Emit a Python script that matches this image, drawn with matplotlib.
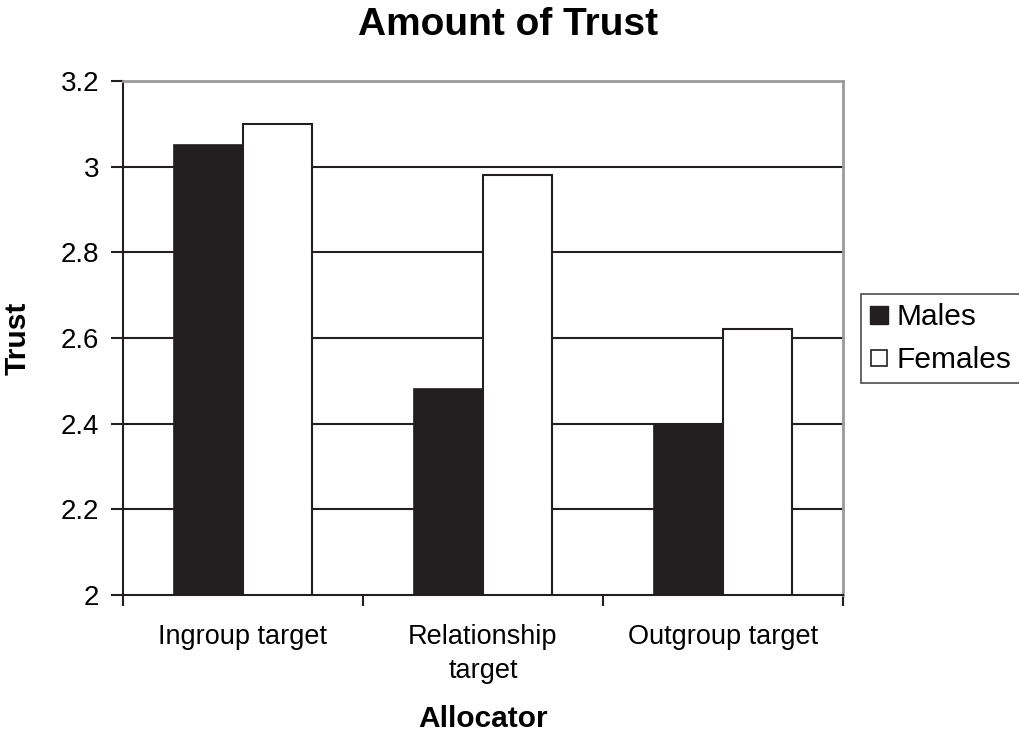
import matplotlib
matplotlib.use("Agg")
import matplotlib.pyplot as plt
import numpy as np
from matplotlib.lines import Line2D

categories = ["Ingroup target", "Relationship\ntarget", "Outgroup target"]
series_names = ["Males", "Females"]
males = [3.05, 2.48, 2.40]
females = [3.10, 2.98, 2.62]
yticks = [2, 2.2, 2.4, 2.6, 2.8, 3, 3.2]
ytick_labels = ["2", "2.2", "2.4", "2.6", "2.8", "3", "3.2"]

plt.rcParams['font.family'] = ['Liberation Sans', 'DejaVu Sans']

fig = plt.figure(figsize=(10.19, 7.34), dpi=100)
ax = fig.add_axes([123/1019, 1-595/734, 720/1019, 514/734])

x = np.arange(len(categories))
w = 0.2875
ax.bar(x - w/2, [m - 2 for m in males], w, bottom=2, color="#231f20",
       edgecolor="#231f20", linewidth=1.2, zorder=3, label=series_names[0])
ax.bar(x + w/2, [f - 2 for f in females], w, bottom=2, color="white",
       edgecolor="#231f20", linewidth=1.5, zorder=3, label=series_names[1])

ax.set_xlim(-0.5, len(categories) - 0.5)
ax.set_ylim(2, 3.2)
ax.set_yticks(yticks)
ax.set_yticklabels(ytick_labels, fontsize=20)
for yv in yticks[1:-1]:
    ax.axhline(yv, color="#231f20", linewidth=1.5, zorder=1)

ax.set_xticks(x)
ax.set_xticklabels(categories, fontsize=19.5, linespacing=1.4)
ax.set_xticks(np.arange(len(categories) + 1) - 0.5, minor=True)
ax.tick_params(axis="x", which="major", length=0, pad=21)
ax.tick_params(axis="x", which="minor", length=8, width=1.5, color="#231f20", direction="out")
ax.tick_params(axis="y", length=9, width=1.5, color="#231f20", direction="out", pad=8)

for s in ["left", "bottom"]:
    ax.spines[s].set_color("#231f20")
    ax.spines[s].set_linewidth(1.5)
for s in ["top", "right"]:
    ax.spines[s].set_color("#9a9a9a")
    ax.spines[s].set_linewidth(2)

fig.text(18/1019, 1 - 338/734, "Trust", fontsize=21.5, fontweight="bold",
         ha="center", va="center", rotation=90)
fig.text(483/1019, 1 - 719/734, "Allocator", fontsize=21.5, fontweight="bold",
         ha="center", va="center")
fig.text(508/1019, 1 - 25/734, "Amount of Trust", fontsize=28, fontweight="bold",
         ha="center", va="center")

handles = [
    Line2D([], [], marker="s", linestyle="none", markersize=13,
           markerfacecolor="#231f20", markeredgecolor="#231f20"),
    Line2D([], [], marker="s", linestyle="none", markersize=12,
           markerfacecolor="white", markeredgecolor="#231f20", markeredgewidth=1.2),
]
leg = fig.legend(handles, series_names, loc="upper left",
                 bbox_to_anchor=(861/1019, 1 - 294/734), fontsize=21.5,
                 frameon=True, fancybox=False, handlelength=0.6,
                 handletextpad=0.3, borderpad=0.3, labelspacing=0.5,
                 borderaxespad=0, handleheight=0.5)
leg.get_frame().set_edgecolor("#231f20")
leg.get_frame().set_linewidth(1.2)

fig.savefig("out.png", dpi=100)
